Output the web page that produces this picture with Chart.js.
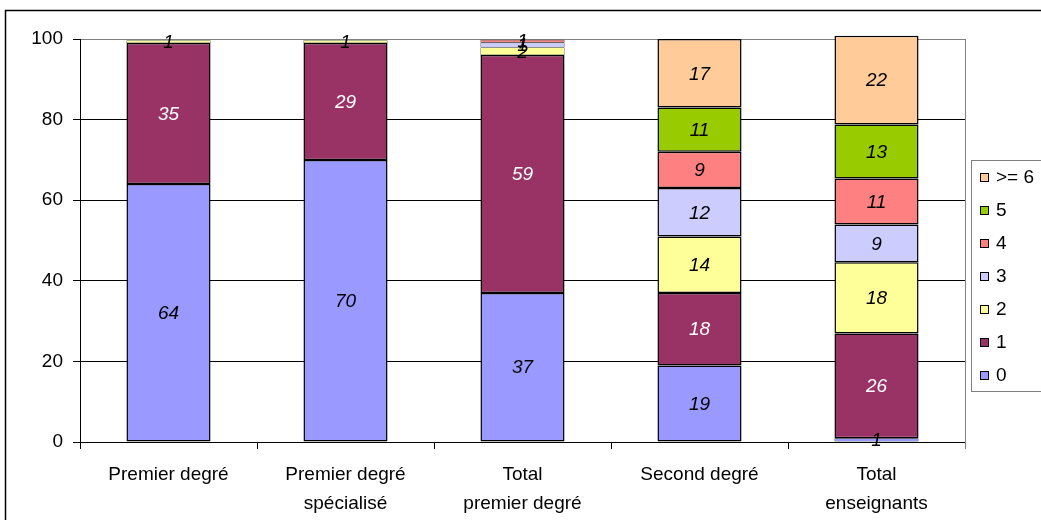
<!DOCTYPE html>
<html>
<head>
<meta charset="utf-8">
<script src="https://cdn.jsdelivr.net/npm/chart.js@4.4.1/dist/chart.umd.min.js"></script>
<style>
html, body { margin: 0; padding: 0; background: #fff; }
#wrap { width: 1041px; height: 520px; }
</style>
</head>
<body>
<div id="wrap"><canvas id="chart" width="1041" height="520"></canvas></div>
<script>
// Categories (x axis)
const categories = [
    'Premier degré',
    ['Premier degré', 'spécialisé'],
    ['Total', 'premier degré'],
    'Second degré',
    ['Total', 'enseignants']
];

// Series values (%)
const serie0 = [64, 70, 37, 19, 0.9];
const serie1 = [35, 29, 59, 18, 26];
const serie2 = [0.7, 0.7, 1.9, 14, 17.7];
const serie3 = [null, null, 1.2, 12, 9.4];
const serie4 = [null, null, 0.7, 9, 11.4];
const serie5 = [null, null, null, 11, 13.4];
const serie6 = [null, null, null, 17, 22];

const seriesNames = ['0', '1', '2', '3', '4', '5', '>= 6'];
const seriesColors = ['#9999ff', '#993366', '#ffff99', '#ccccff', '#ff8080', '#99cc00', '#ffcc99'];
const labelColors = ['#000', '#fff', '#000', '#000', '#000', '#000', '#000'];

// Y axis ticks
const yTicks = [0, 20, 40, 60, 80, 100];

const FONT = '"Liberation Sans", Arial, sans-serif';

const allSeries = [serie0, serie1, serie2, serie3, serie4, serie5, serie6];
const datasets = allSeries.map((data, i) => ({
    label: seriesNames[i],
    data: data,
    backgroundColor: seriesColors[i],
    borderColor: '#000',
    // bordure plus fine pour les toutes petites tranches, sinon la couleur disparait
    borderWidth: ctx => (Math.abs(ctx.raw) < 2 ? 0.6 : 1.5),
    borderSkipped: false,
    clip: false,
    barPercentage: 0.475,
    categoryPercentage: 1
}));

// Valeurs dans les barres (italique)
const valueLabels = {
    id: 'valueLabels',
    afterDatasetsDraw(chart) {
        const ctx = chart.ctx;
        ctx.save();
        ctx.font = 'italic 19px ' + FONT;
        ctx.textAlign = 'center';
        ctx.textBaseline = 'middle';
        chart.data.datasets.forEach((ds, i) => {
            chart.getDatasetMeta(i).data.forEach((bar, j) => {
                const v = ds.data[j];
                if (v === null || v === undefined) return;
                ctx.fillStyle = labelColors[i];
                ctx.fillText(Math.round(v), bar.x, (bar.y + bar.base) / 2 + 1);
            });
        });
        ctx.restore();
    }
};

// Cadre, bord droit du graphe et légende encadrée
const frameAndLegend = {
    id: 'frameAndLegend',
    beforeDraw(chart) {
        const ctx = chart.ctx;
        ctx.save();
        ctx.fillStyle = '#fff';
        ctx.fillRect(0, 0, chart.width, chart.height);
        ctx.restore();
    },
    afterDraw(chart) {
        const ctx = chart.ctx;
        const area = chart.chartArea;
        ctx.save();
        // outer frame
        ctx.strokeStyle = '#000';
        ctx.lineWidth = 1.5;
        ctx.strokeRect(5.5, 10.5, chart.width + 20, chart.height + 20);
        // right border of plot area
        ctx.strokeStyle = '#808080';
        ctx.lineWidth = 1;
        ctx.beginPath();
        ctx.moveTo(Math.round(area.right) + 0.5, area.top);
        ctx.lineTo(Math.round(area.right) + 0.5, area.bottom + 7);
        ctx.stroke();
        // legend box
        ctx.strokeRect(971.5, 160.5, 120, 231);
        ctx.font = '19px ' + FONT;
        ctx.textAlign = 'left';
        ctx.textBaseline = 'middle';
        for (let k = 0; k < seriesNames.length; k++) {
            const i = seriesNames.length - 1 - k;
            const y = 177 + k * 33;
            ctx.fillStyle = seriesColors[i];
            ctx.fillRect(980, y - 4, 9, 9);
            ctx.strokeStyle = '#000';
            ctx.strokeRect(980.5, y - 3.5, 8, 8);
            ctx.fillStyle = '#000';
            ctx.fillText(seriesNames[i], 996, y + 1);
        }
        ctx.restore();
    }
};

const chart = new Chart(document.getElementById('chart').getContext('2d'), {
    type: 'bar',
    data: { labels: categories, datasets: datasets },
    options: {
        responsive: false,
        animation: false,
        layout: { padding: { top: 39, right: 76, bottom: 0, left: 0 } },
        plugins: {
            legend: { display: false },
            tooltip: { enabled: false }
        },
        scales: {
            x: {
                stacked: true,
                afterFit(scale) { scale.height = 78; },
                grid: {
                    offset: true,
                    drawOnChartArea: false,
                    drawTicks: true,
                    tickLength: 7,
                    color: '#000'
                },
                border: { display: true, color: '#000', width: 1 },
                ticks: {
                    color: '#000',
                    font: { family: FONT, size: 19, lineHeight: 1.5 },
                    padding: 12,
                    maxRotation: 0,
                    autoSkip: false
                }
            },
            y: {
                stacked: true,
                min: 0,
                max: 100,
                afterFit(scale) { scale.width = 80; },
                afterBuildTicks(scale) { scale.ticks = yTicks.map(v => ({ value: v })); },
                grid: {
                    color: ctx => (ctx.tick && ctx.tick.value === 100) ? '#808080' : '#000',
                    tickColor: '#000',
                    tickLength: 7,
                    lineWidth: 1
                },
                border: { display: true, color: '#000', width: 1 },
                ticks: {
                    color: '#000',
                    font: { family: FONT, size: 19 },
                    padding: 10
                }
            }
        }
    },
    plugins: [valueLabels, frameAndLegend]
});
</script>
</body>
</html>
